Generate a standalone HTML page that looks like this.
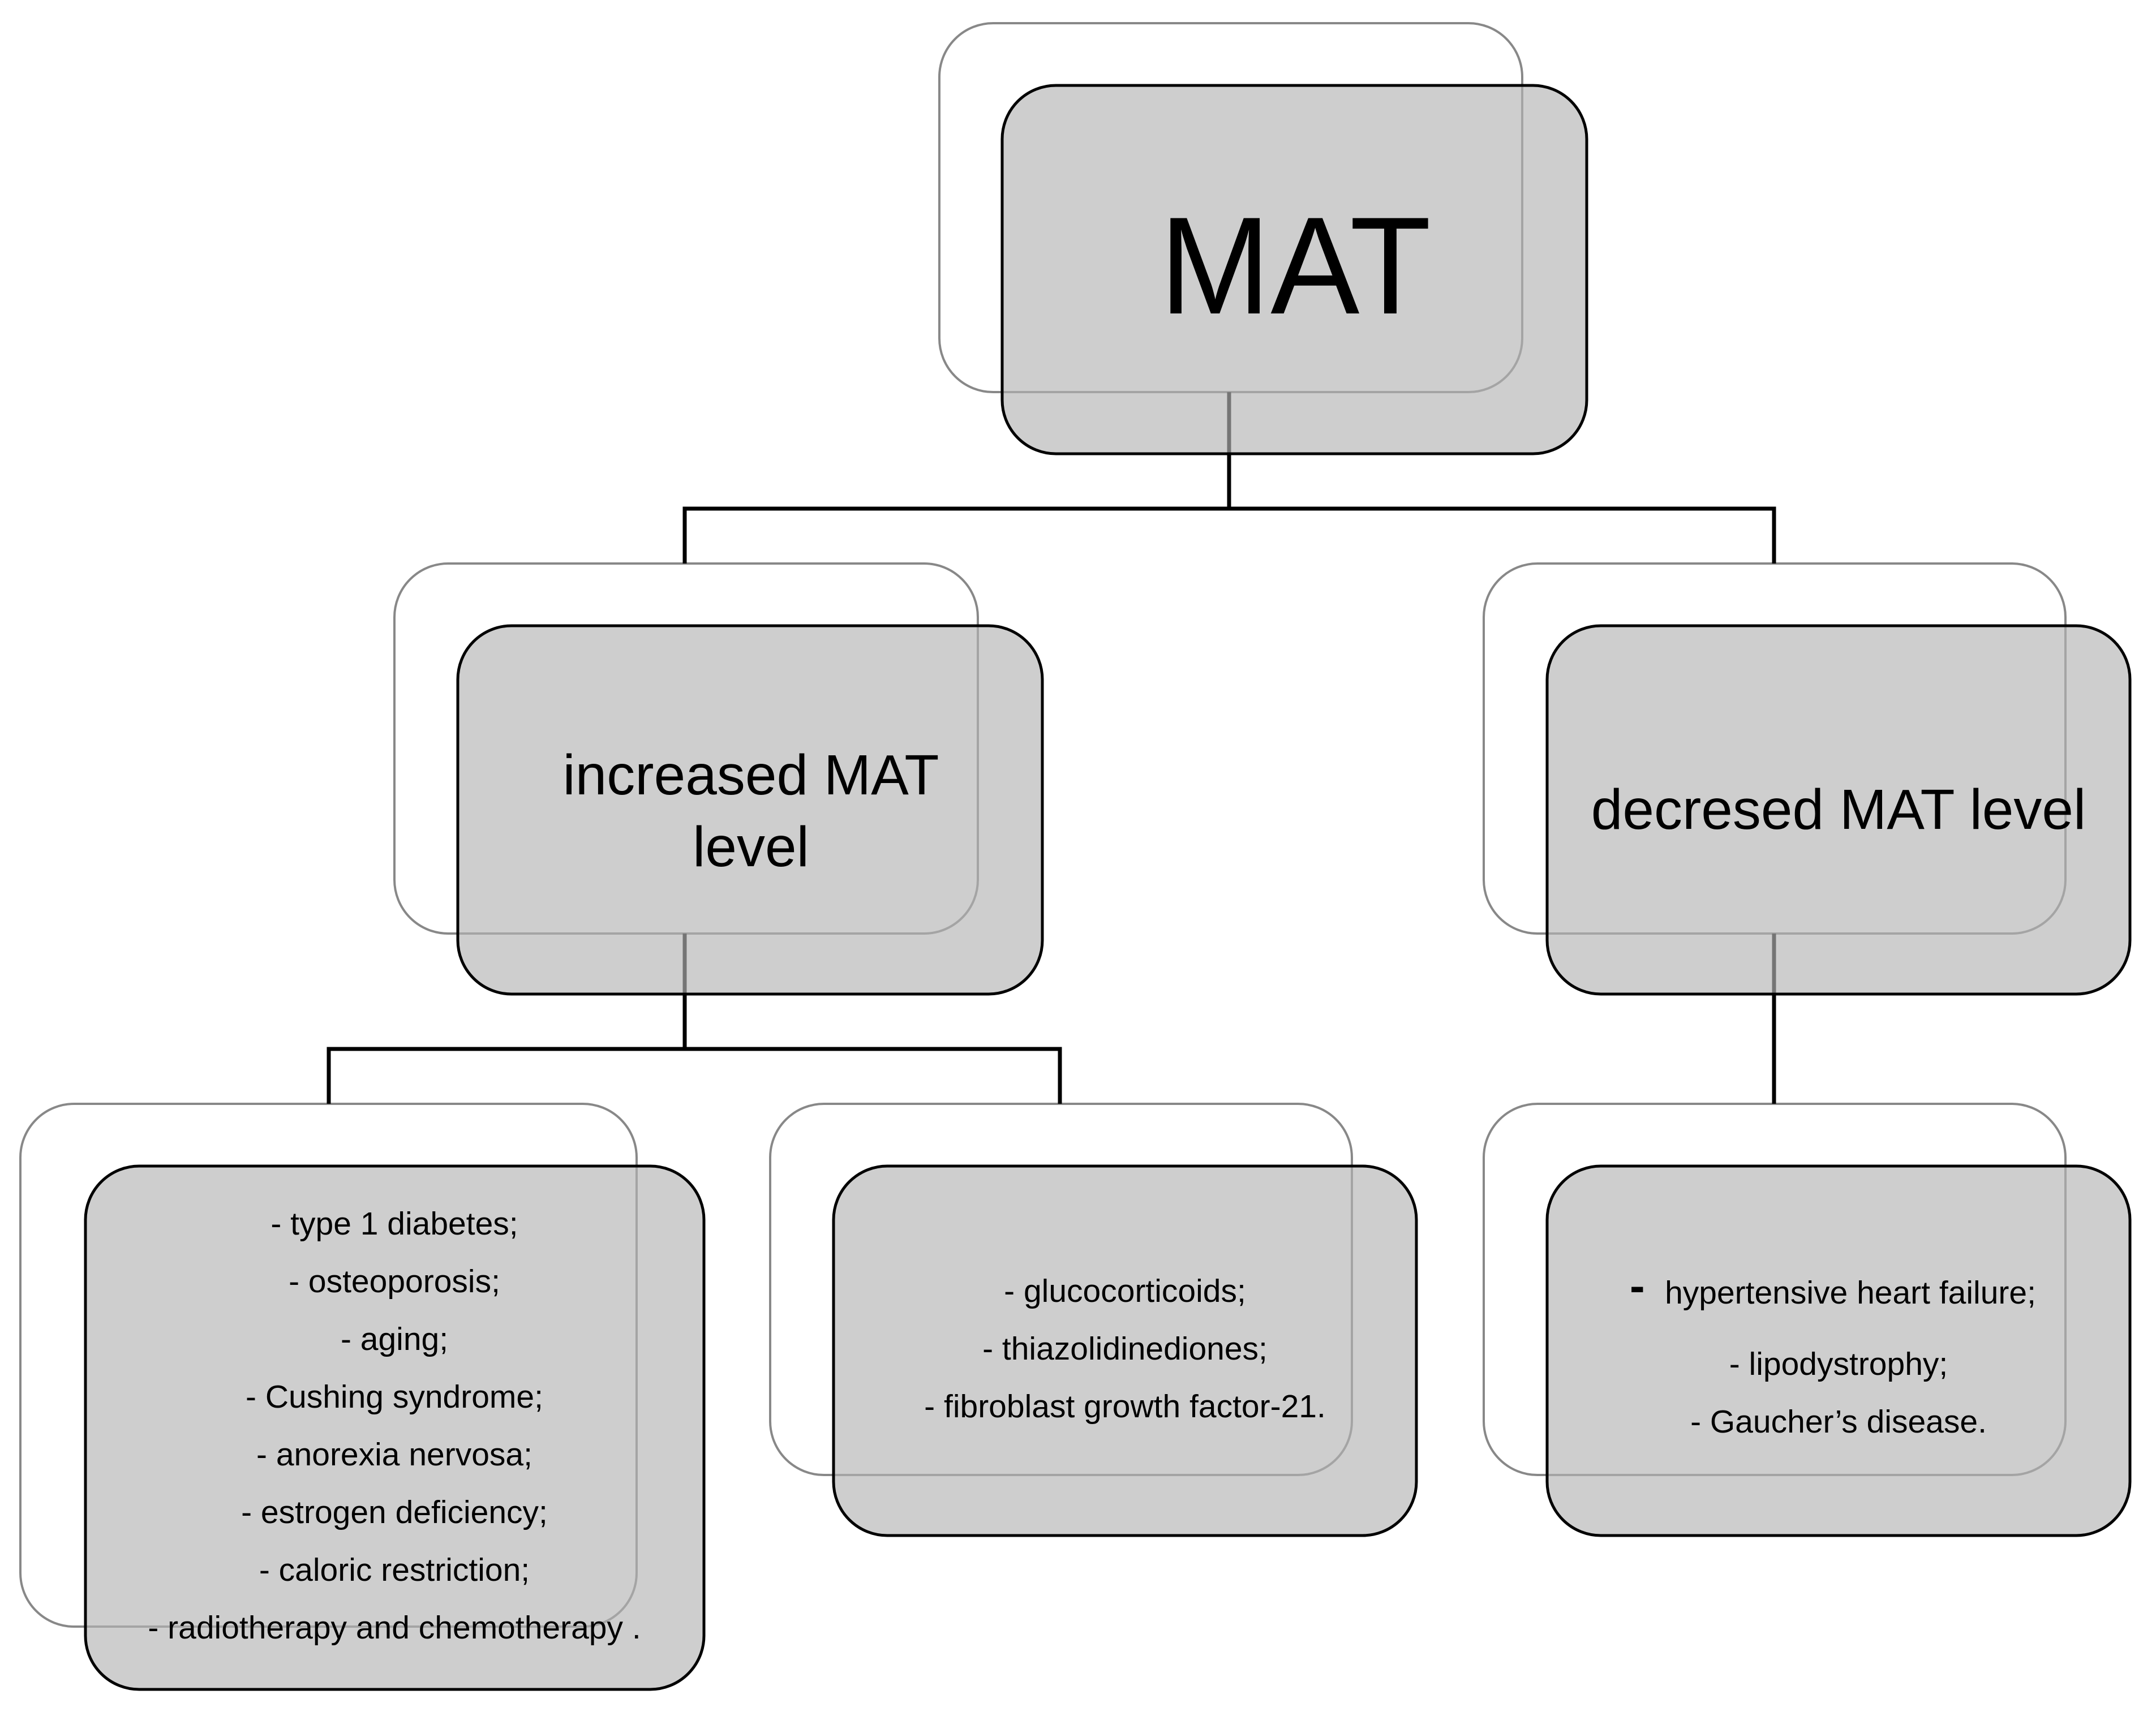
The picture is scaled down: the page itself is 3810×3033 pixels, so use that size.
<!DOCTYPE html>
<html><head><meta charset="utf-8"><style>
html,body{margin:0;padding:0;background:#fff;}
svg{display:block;}
text{font-family:"Liberation Sans",sans-serif;fill:#000;}
</style></head><body>
<svg width="3810" height="3033" viewBox="0 0 3810 3033" xmlns="http://www.w3.org/2000/svg">
<g fill="#fff" stroke="#888" stroke-width="4">
<rect x="1660" y="41" width="1030" height="652" rx="95"/>
<rect x="697" y="996" width="1031" height="654" rx="95"/>
<rect x="2622" y="996" width="1028" height="654" rx="95"/>
<rect x="36" y="1951" width="1089" height="924" rx="95"/>
<rect x="1361" y="1951" width="1028" height="656" rx="95"/>
<rect x="2622" y="1951" width="1028" height="656" rx="95"/>
</g>
<g fill="none" stroke="#000" stroke-width="7">
<path d="M2172 693 V899 M1210 996 V899 H3135 V996"/>
<path d="M1210 1650 V1854 M581 1951 V1854 H1873 V1951"/>
<path d="M3135 1650 V1951"/>
</g>
<g fill="rgba(180,180,180,0.65)" stroke="#000" stroke-width="5">
<rect x="1771" y="151" width="1033" height="651" rx="95"/>
<rect x="809" y="1106" width="1033" height="651" rx="95"/>
<rect x="2734" y="1106" width="1030" height="651" rx="95"/>
<rect x="151" y="2061" width="1093" height="925" rx="95"/>
<rect x="1473" y="2061" width="1030" height="653" rx="95"/>
<rect x="2734" y="2061" width="1030" height="653" rx="95"/>
</g>
<text x="2289" y="554" font-size="245" text-anchor="middle" textLength="480" lengthAdjust="spacingAndGlyphs">MAT</text>
<g font-size="100" text-anchor="middle">
<text x="1327" y="1404">increased MAT</text>
<text x="1327" y="1531">level</text>
<text x="3249" y="1465">decresed MAT level</text>
</g>
<g font-size="57" text-anchor="middle">
<text x="697" y="2182">- type 1 diabetes;</text>
<text x="697" y="2284">- osteoporosis;</text>
<text x="697" y="2386">- aging;</text>
<text x="697" y="2488">- Cushing syndrome;</text>
<text x="697" y="2590">- anorexia nervosa;</text>
<text x="697" y="2692">- estrogen deficiency;</text>
<text x="697" y="2794">- caloric restriction;</text>
<text x="697" y="2896">- radiotherapy and chemotherapy .</text>
<text x="1988" y="2301">- glucocorticoids;</text>
<text x="1988" y="2403">- thiazolidinediones;</text>
<text x="1988" y="2505">- fibroblast growth factor-21.</text>
<text x="3270" y="2304">hypertensive heart failure;</text>
<text x="3249" y="2430">- lipodystrophy;</text>
<text x="3249" y="2532">- Gaucher’s disease.</text>
</g>
<text x="2880" y="2300" font-size="80" font-weight="bold">-</text>
</svg>
</body></html>
